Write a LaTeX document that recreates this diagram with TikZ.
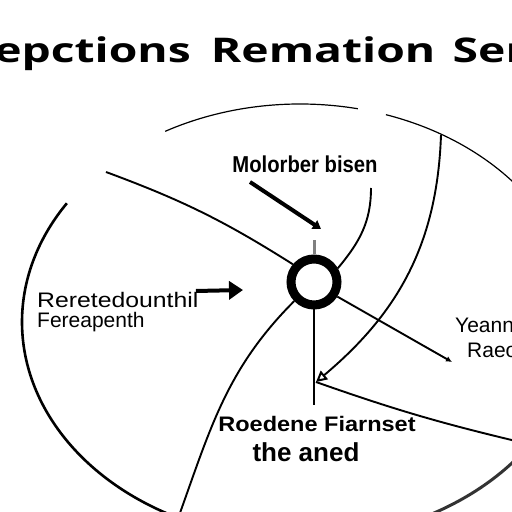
\documentclass[tikz,border=0pt]{standalone}
\usepackage{fontspec}
\setmainfont{Liberation Sans}
\newfontfamily\titlefont{Open Sans}
\usetikzlibrary{arrows.meta,positioning,calc}

\begin{document}
\begin{tikzpicture}[x=1pt,y=1pt,
    link/.style={line width=1.9pt},
    oval/.style={line width=#1},
    lbl/.style={inner sep=0pt, font=\fontsize{21}{20}\selectfont},
    boldlbl/.style={inner sep=0pt, font=\bfseries\fontsize{21}{20}\selectfont}]
    \useasboundingbox (0,0) rectangle (512,512);
    \fill[white] (0,0) rectangle (512,512);

    % Title
    \node[anchor=base west, inner sep=0pt, xscale=1.36, font=\titlefont\bfseries\fontsize{34}{36}\selectfont]
        (title) at (-6,449) {epctions\hspace{6pt} Remation\hspace{4pt} Sen};

    % Outer oval, drawn in pieces
    \draw[oval=1.2pt] (300,190) ++(119:278 and 218) arc[start angle=119, end angle=78, x radius=278, y radius=218];
    \draw[oval=1.2pt] (300,190) ++(72:278 and 218) arc[start angle=72, end angle=15, x radius=278, y radius=218];
    \draw[oval=2.6pt] (300,190) ++(147:278 and 218) arc[start angle=147, end angle=245, x radius=278, y radius=218];
    \draw[oval=3pt, black!80] (300,190) ++(-34:278 and 218) arc[start angle=-34, end angle=-72, x radius=278, y radius=218];

    % Central ring
    \node[circle, draw, line width=9pt, minimum size=46pt, inner sep=0pt] (ring) at (314,230) {};

    % Labels
    \node[boldlbl, anchor=base, xscale=0.88, font=\bfseries\fontsize{23}{20}\selectfont] (mol) at (305,339) {Molorber bisen};
    \node[lbl, anchor=north west, align=left] (rer) at (37,220) {\scalebox{1.18}[1]{Reretedounthil}\\Fereapenth};
    \node[lbl, anchor=north west, align=left, font=\fontsize{21}{25}\selectfont] (yea) at (455,194) {Yeann\\\hspace*{12pt}Raeo};
    \node[boldlbl, anchor=base] (roe) at (317,80) {\scalebox{1.12}[1]{Roedene Fiarnset}};
    \node[boldlbl, anchor=base, font=\bfseries\fontsize{26}{26}\selectfont] (ane) at (306,50) {the aned};

    % Free ends
    \coordinate (c1) at (106,340);
    \coordinate (molS) at (250,330);
    \coordinate (molE) at (321,283);
    \coordinate (c3) at (371,324);
    \coordinate (c4) at (441,377);
    \coordinate (meet) at (316,130);
    \coordinate (bot) at (314,107);
    \coordinate (yE) at (452,150);
    \coordinate (rE7) at (520,70);
    \coordinate (c8) at (176,-12);
    \coordinate (rS) at (196,221);
    \coordinate (rEnd) at (243,222);

    % Connectors
    \draw[link] (c1) to[bend left=6] (ring.140);
    \draw[line width=4pt, -{Triangle[width=10pt,length=8pt]}] (molS) -- (molE);
    \draw[line width=3pt, gray] (ring.north) -- ++(0,14);
    \draw[link] (c3) to[out=-90, in=50] (ring.30);
    \draw[link, -{Triangle[open, width=11pt, length=11pt, line width=2pt]}] (c4) to[out=-92, in=40] (meet);
    \draw[link] (ring.south) -- (bot);
    \draw[link, -{Latex[length=6pt, width=6pt]}] (ring.-32) -- (yE);
    \draw[link] (meet) to[bend right=3] (rE7);
    \draw[link] (ring.224) to[out=225, in=70] (c8);
    \draw[line width=4pt, -{Triangle[width=18pt,length=14pt]}] (rS) -- (rEnd);
\end{tikzpicture}
\end{document}
